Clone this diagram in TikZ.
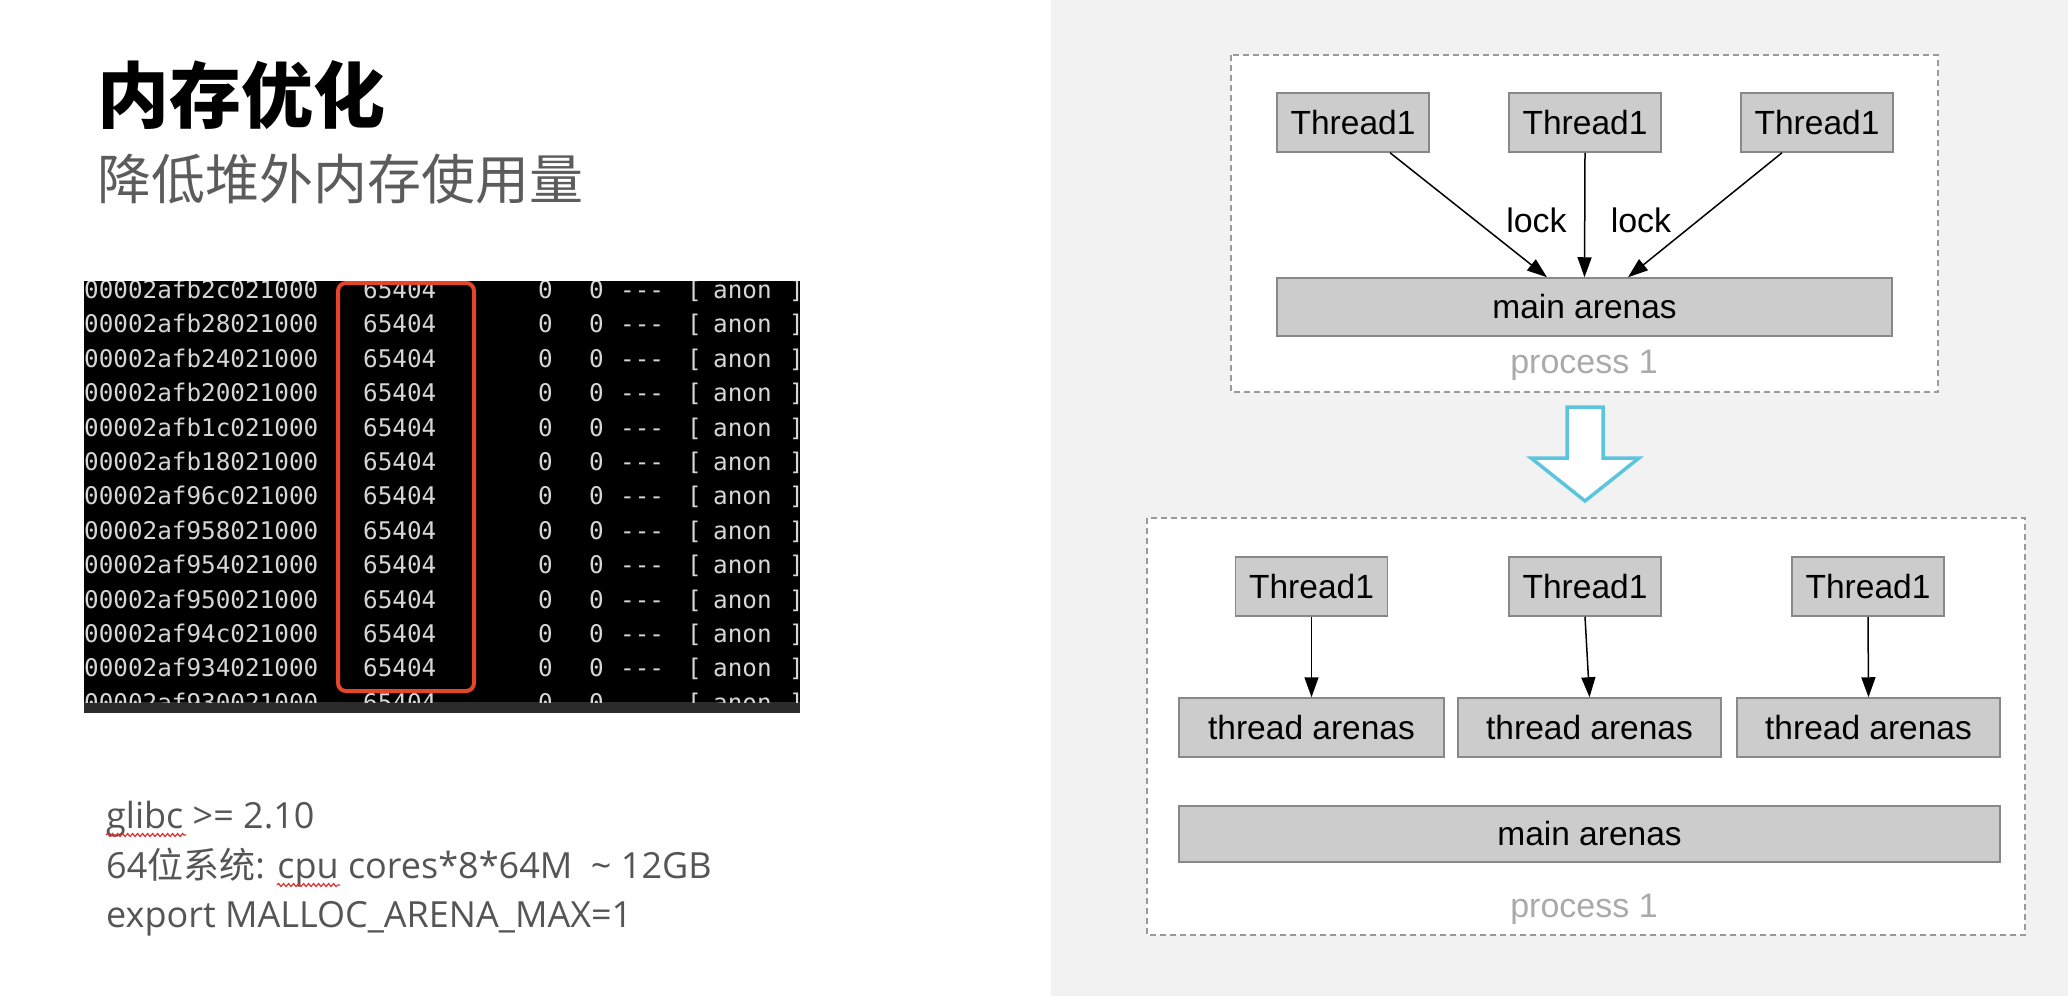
\documentclass[tikz,border=0pt]{standalone}
\usepackage{fontspec}
\setmainfont{Liberation Sans}
\newfontfamily\cjk{Noto Sans CJK SC}
\newfontfamily\notefont{Open Sans}
\newfontfamily\termfont{DejaVu Sans Mono}
\usetikzlibrary{arrows.meta,decorations.pathmorphing}
\definecolor{panelgray}{HTML}{F2F2F2}
\definecolor{boxgray}{HTML}{CCCCCC}
\definecolor{edgegray}{HTML}{888888}
\definecolor{dashgray}{HTML}{9A9A9A}
\definecolor{labelgray}{HTML}{AAAAAA}
\definecolor{subgray}{HTML}{5C5C5C}
\definecolor{textgray}{HTML}{555555}
\definecolor{termgray}{HTML}{D6D6D6}
\definecolor{bandgray}{HTML}{2B2B2B}
\definecolor{markred}{HTML}{E5462A}
\definecolor{wavyred}{HTML}{E0302F}
\definecolor{arrowblue}{HTML}{5BC5DE}
\tikzset{
  arenabox/.style={draw=edgegray, fill=boxgray, line width=1.5pt, inner sep=0pt,
    minimum height=59pt, font=\fontsize{33.5}{36}\selectfont},
  threadbox/.style={arenabox, minimum width=152pt},
  procframe/.style={draw=dashgray, fill=white, line width=1.5pt, dash pattern=on 6pt off 4pt},
  flowarrow/.style={line width=1.5pt, -{Triangle[length=20pt,width=14pt]}},
  locklabel/.style={inner sep=0pt, anchor=base, font=\fontsize{34}{36}\selectfont},
  proclabel/.style={text=labelgray, inner sep=0pt, anchor=base, font=\fontsize{34}{36}\selectfont},
  termtext/.style={text=termgray, inner sep=0pt, anchor=base west, font=\termfont\fontsize{24.3}{26}\selectfont},
  notetext/.style={text=textgray, inner sep=0pt, anchor=base west, font=\notefont\fontsize{36}{40}\selectfont},
  wavy/.style={wavyred, line width=1.2pt, decorate, decoration={snake, amplitude=1.5pt, segment length=5pt}},
}
\begin{document}
\begin{tikzpicture}[x=1pt, y=-1pt]
  \useasboundingbox (0,0) rectangle (2068,996);
  \fill[white] (0,0) rectangle (1051,996);
  \fill[panelgray] (1051,0) rectangle (2068,996);

  \node[anchor=base west, inner sep=0pt, font=\cjk\bfseries\fontsize{72}{80}\selectfont] (title) at (97,122) {内存优化};
  \node[anchor=base west, inner sep=0pt, text=subgray, font=\cjk\fontsize{54}{60}\selectfont] (subtitle) at (97,199) {降低堆外内存使用量};

  \fill[black] (84,281) rectangle (800,702);
  \fill[bandgray] (84,702) rectangle (800,713);
  \begin{scope}
    \clip (84,281) rectangle (800,702);
    \foreach \addr [count=\i from 0] in {00002afb2c021000, 00002afb28021000, 00002afb24021000,
        00002afb20021000, 00002afb1c021000, 00002afb18021000, 00002af96c021000, 00002af958021000,
        00002af954021000, 00002af950021000, 00002af94c021000, 00002af934021000, 00002af930021000} {
      \pgfmathsetmacro\rowy{298.5+34.4*\i}
      \node[termtext] (addr\i) at (84,\rowy) {\addr};
      \node[termtext] (size\i) at (363,\rowy) {65404};
      \node[termtext] (rss\i) at (538,\rowy) {0};
      \node[termtext] (dirty\i) at (589,\rowy) {0};
      \node[termtext] (mode\i) at (620,\rowy) {---};
      \node[termtext] (open\i) at (687,\rowy) {[};
      \node[termtext] (anon\i) at (713,\rowy) {anon};
      \node[termtext] (close\i) at (789,\rowy) {]};
    }
  \end{scope}
  \draw[markred, line width=4pt, rounded corners=8pt] (338,283) rectangle (474,691);

  \node[notetext] (glibc) at (106,828) {glibc >= 2.10};
  \node[notetext] (cores) at (106,878) {64{\cjk 位系统}: cpu cores*8*64M\ \ \textasciitilde\ 12GB};
  \node[notetext] (export) at (106,927) {export MALLOC\_ARENA\_MAX=1};
  \draw[wavy] (106,835) -- (186,835);
  \draw[wavy] (277,885) -- (340,885);

  \draw[procframe] (1231,55) rectangle (1938,392);
  \node[threadbox] (ta) at (1353,122.5) {Thread1};
  \node[threadbox] (tb) at (1585,122.5) {Thread1};
  \node[threadbox] (tc) at (1817,122.5) {Thread1};
  \node[arenabox, minimum width=615pt, minimum height=58pt] (main) at (1584.5,307) {main arenas};
  \node[proclabel] (procA) at (1584,373) {process 1};
  \draw[flowarrow] ([xshift=37pt]ta.south) -- ([xshift=-37.5pt]main.north);
  \draw[flowarrow] (tb.south) -- (main.north);
  \draw[flowarrow] ([xshift=-35pt]tc.south) -- ([xshift=43.5pt]main.north);
  \node[locklabel] (lockA) at (1536.5,232) {lock};
  \node[locklabel] (lockB) at (1641,232) {lock};

  \draw[arrowblue, fill=white, line width=3.5pt, line join=miter]
    (1567,407) -- (1603,407) -- (1603,458) -- (1639,458) -- (1585,501) -- (1531,458) -- (1567,458) -- cycle;

  \draw[procframe] (1147,518) rectangle (2025,935);
  \node[threadbox] (ua) at (1311.5,586.5) {Thread1};
  \node[threadbox] (ub) at (1585,586.5) {Thread1};
  \node[threadbox] (uc) at (1868,586.5) {Thread1};
  \node[arenabox, minimum width=265pt] (aa) at (1311.5,727.5) {thread arenas};
  \node[arenabox, minimum width=263pt] (ab) at (1589.5,727.5) {thread arenas};
  \node[arenabox, minimum width=263pt] (ac) at (1868.5,727.5) {thread arenas};
  \node[arenabox, minimum width=821pt, minimum height=56pt] (mainB) at (1589.5,834) {main arenas};
  \node[proclabel] (procB) at (1584,917) {process 1};
  \draw[flowarrow] (ua.south) -- (aa.north);
  \draw[flowarrow] (ub.south) -- (ab.north);
  \draw[flowarrow] (uc.south) -- (ac.north);
\end{tikzpicture}
\end{document}
